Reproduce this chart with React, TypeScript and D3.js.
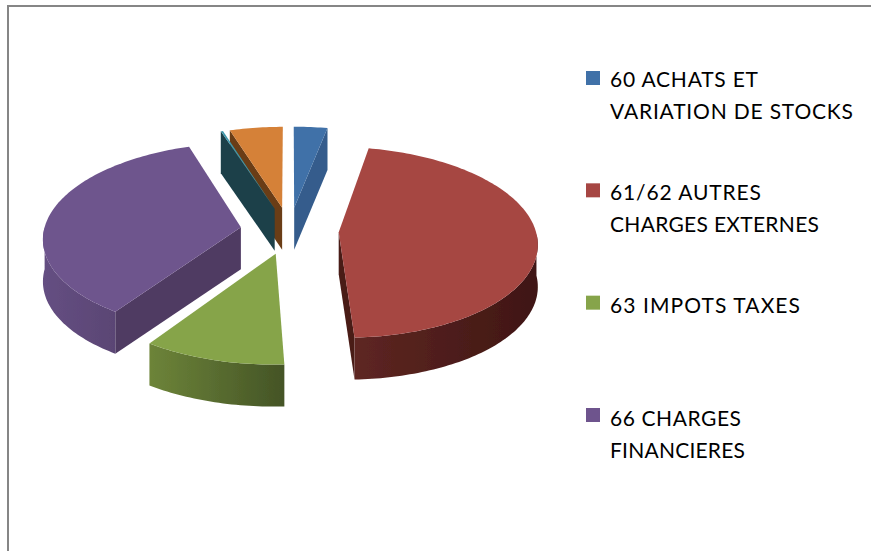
import React from "react";
import * as d3 from "d3";

const sliceNames = ["60", "61/62", "63", "66", "64", "65"];
const values = [3.1, 46.2, 10.25, 35.4, 0.2, 4.9];
const topColors = ["#4071a8", "#a64643", "#86a44a", "#6e548d", "#3f97ab", "#d58138"];
const wallColors = ["#345c8c", "#4a1b18", "#556b30", "#4f3a62", "#1a3f4a", "#6a3d14"];
const wallLeft = ["#345c8c", "#5e2622", "#6d8439", "#654f82", "#1a3f4a", "#6a3d14"];
const wallRight = ["#345c8c", "#3f1614", "#445426", "#5a4574", "#1a3f4a", "#6a3d14"];
const legendLines = [
  ["60 ACHATS ET", "VARIATION DE STOCKS"],
  ["61/62 AUTRES", "CHARGES EXTERNES"],
  ["63 IMPOTS TAXES"],
  ["66 CHARGES", "FINANCIERES"],
];
const legendWidths = [[148, 243], [151, 209], [190], [131, 135]];

const W = 871, H = 551;
const CX = 289.5, CY = 230.5, RX = 197, RY = 94, K = 0.105, DEPTH = 42, EXPLODE = 0.25;

const sx = d3.scaleLinear().domain([-1, 1]).range([-RX, RX]);
const sy = d3.scaleLinear().domain([-1, 1]).range([-RY, RY]);
const project = (X: number, Y: number, dz = 0): [number, number] => {
  const p = 1 / (1 - K * Y);
  return [CX + sx(X) * p, CY + sy(Y) * p + dz];
};
const legendIdx = legendLines.map((_, i) => i);
const swatchY = d3.scalePoint<number>().domain(legendIdx).range([78, 415]);
const textY = d3.scalePoint<number>().domain(legendIdx).range([87, 426]);

export default function App() {
  const pie = d3.pie<number>().sort(null).startAngle(0).endAngle(2 * Math.PI);
  const arcs = pie(values);
  const line = d3.line();
  const slices = arcs.map((a, i) => {
    const mid = (a.startAngle + a.endAngle) / 2;
    const ex = EXPLODE * Math.sin(mid), ey = -EXPLODE * Math.cos(mid);
    const pt = (t: number, r: number, dz = 0) => project(ex + r * Math.sin(t), ey - r * Math.cos(t), dz);
    const n = Math.max(2, Math.ceil((a.endAngle - a.startAngle) / 0.02));
    const thetas = d3.range(n + 1).map((k) => a.startAngle + ((a.endAngle - a.startAngle) * k) / n);
    const top = line([pt(0, 0), ...thetas.map((t) => pt(t, 1))])! + "Z";
    const walls: string[] = [];
    if (Math.sin(a.startAngle) < -1e-6)
      walls.push(line([pt(0, 0), pt(a.startAngle, 1), pt(a.startAngle, 1, DEPTH), pt(0, 0, DEPTH)])! + "Z");
    if (Math.sin(a.endAngle) > 1e-6)
      walls.push(line([pt(0, 0), pt(a.endAngle, 1), pt(a.endAngle, 1, DEPTH), pt(0, 0, DEPTH)])! + "Z");
    const front = thetas.filter((t) => Math.cos(t) < 0);
    const outer = front.length > 1
      ? line([...front.map((t) => pt(t, 1)), ...front.slice().reverse().map((t) => pt(t, 1, DEPTH))])! + "Z"
      : null;
    const xs = front.map((t) => pt(t, 1)[0]);
    return { i, name: sliceNames[i], top, walls, outer, x0: d3.min(xs) ?? 0, x1: d3.max(xs) ?? 1 };
  });
  // painter's order, back to front
  const order = [5, 4, 0, 3, 1, 2];
  return (
    <svg width={W} height={H} style={{ position: "absolute", left: 0, top: 0, background: "#fff" }}>
      <defs>
        <filter id="soft" x="-5%" y="-5%" width="110%" height="110%">
          <feGaussianBlur stdDeviation="0.5" />
        </filter>
        {slices.map((s) => (
          <linearGradient key={s.i} id={`w${s.i}`} gradientUnits="userSpaceOnUse" x1={s.x0} x2={s.x1} y1={0} y2={0}>
            <stop offset="0" stopColor={wallLeft[s.i]} />
            <stop offset="1" stopColor={wallRight[s.i]} />
          </linearGradient>
        ))}
      </defs>
      <path d={`M8 ${H}V6H${W}`} fill="none" stroke="#868686" strokeWidth={2} />
      <g filter="url(#soft)">
        {order.map((i) => {
          const s = slices[i];
          return (
            <g key={i} data-name={s.name}>
              {s.walls.map((d, k) => <path key={k} d={d} fill={wallColors[i]} />)}
              {s.outer && <path d={s.outer} fill={`url(#w${i})`} />}
              <path d={s.top} fill={topColors[i]} />
            </g>
          );
        })}
      </g>
      <g fontFamily="Lato, Carlito, sans-serif" fontSize={21} fill="#000">
        {legendLines.map((lines, r) => (
          <g key={r}>
            <rect x={586} y={swatchY(r)! - 7} width={14} height={14} fill={topColors[r]} />
            {lines.map((l, k) => (
              <text key={k} x={610} y={textY(r)! + k * 32} textLength={legendWidths[r][k]} lengthAdjust="spacing">{l}</text>
            ))}
          </g>
        ))}
      </g>
    </svg>
  );
}
